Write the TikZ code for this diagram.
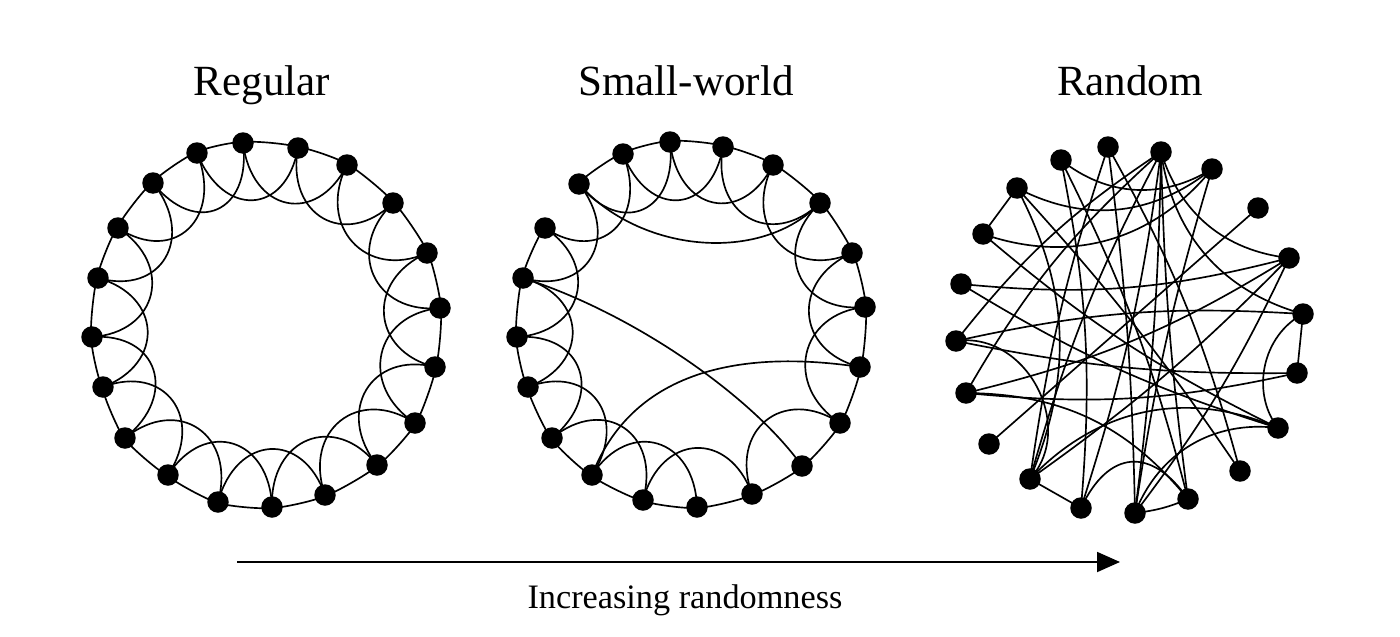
\documentclass[tikz,border=0pt]{standalone}
\usepackage{fontspec}
\setmainfont{Liberation Serif}
\usetikzlibrary{calc,arrows.meta}
\pgfdeclarelayer{paper}
\pgfdeclarelayer{edges}
\pgfsetlayers{paper,edges,main}
\newcommand\ringlink[3]{\draw[link] (#1.center) .. controls ($(#1)!-0.02!(#3)$) and ($(#2)!-0.02!(#3)$) .. (#2.center);}
\newcommand\skiplink[3]{\draw[link] (#1.center) .. controls ($(#1)!0.38!(#3)$) and ($(#2)!0.38!(#3)$) .. (#2.center);}
\newcommand\bendL[4]{\draw[link] (#1.center) .. controls ($(#1)!#4!#3:(#2)$) and ($(#2)!#4!-#3:(#1)$) .. (#2.center);}
\newcommand\bendR[4]{\bendL{#2}{#1}{#3}{#4}}
\begin{document}
\begin{tikzpicture}[x=0.02cm,y=-0.02cm,
  dot/.style={circle,fill=black,inner sep=0pt,minimum size=0.43cm},
  link/.style={line width=0.95pt,black},
  title/.style={font=\fontsize{24.5}{28}\selectfont,anchor=base},
  caption/.style={font=\fontsize{19.5}{23}\selectfont,anchor=base}]
\begin{pgfonlayer}{paper}
\fill[white] (0,0) rectangle (1400,636);
\end{pgfonlayer}
\useasboundingbox (0,0) rectangle (1400,636);

% titles
\node[title] (tReg) at (262,95) {Regular};
\node[title] (tSW) at (686,95) {Small-world};
\node[title] (tRand) at (1130,95) {Random};

% ---------- Regular ----------
\coordinate (RC) at (266,325);
\foreach \n/\x/\y in {1/243/143,2/298/148,3/347/165,4/393/203,5/427/253,6/440/308,7/435/367,8/415/423,9/377/465,10/325/495,11/272/507,12/218/502,13/168/475,14/125/438,15/103/387,16/92/337,17/98/278,18/118/228,19/153/183,20/197/153}
  \node[dot] (R\n) at (\x,\y) {};
\begin{pgfonlayer}{edges}
\foreach \i in {1,...,20}{
  \pgfmathtruncatemacro\j{mod(\i,20)+1}
  \pgfmathtruncatemacro\k{mod(\i+1,20)+1}
  \ringlink{R\i}{R\j}{RC}
  \skiplink{R\i}{R\k}{RC}
}
\end{pgfonlayer}

% ---------- Small-world ----------
\coordinate (SC) at (691,325);
\foreach \n/\x/\y in {1/670/142,2/723/147,3/773/165,4/820/203,5/852/253,6/865/307,7/860/367,8/840/423,9/802/466,10/752/494,11/697/507,12/643/500,13/592/475,14/552/438,15/528/387,16/517/337,17/523/278,18/545/228,19/579/184,20/623/154}
  \node[dot] (S\n) at (\x,\y) {};
\begin{pgfonlayer}{edges}
\foreach \i in {1,...,17,19,20}{
  \pgfmathtruncatemacro\j{mod(\i,20)+1}
  \ringlink{S\i}{S\j}{SC}
}
\foreach \i in {1,2,3,4,5,6,8,10,11,12,13,14,15,16,17,18,19,20}{
  \pgfmathtruncatemacro\k{mod(\i+1,20)+1}
  \skiplink{S\i}{S\k}{SC}
}
\draw[link] (S19.center) .. controls +(60,68) and +(-60,62) .. (S4.center);
\draw[link] (S7.center) .. controls +(-100,-15) and +(45,-115) .. (S13.center);
\draw[link] (S17.center) .. controls +(110,35) and +(-50,-70) .. (S9.center);
\end{pgfonlayer}

% ---------- Random ----------
\foreach \n/\x/\y in {1/1061/160,2/1108/147,3/1161/152,4/1212/169,5/1258/208,6/1289/258,7/1303/314,8/1297/373,9/1278/428,10/1240/471,11/1188/499,12/1135/513,13/1081/508,14/1030/479,15/989/444,16/966/393,17/956/341,18/961/284,19/983/234,20/1017/188}
  \node[dot] (r\n) at (\x,\y) {};
\begin{pgfonlayer}{edges}
\draw[link] (r19.center) -- (r20.center);
\draw[link] (r13.center) -- (r14.center);
\draw[link] (r7.center) -- (r8.center);
\bendL{r11}{r12}{8}{0.39}
\bendR{r7}{r9}{50}{0.39}
\bendR{r1}{r4}{35}{0.39}
\bendR{r20}{r4}{33}{0.39}
\bendR{r19}{r4}{35}{0.39}
\bendR{r3}{r6}{33}{0.39}
\bendR{r3}{r7}{33}{0.39}
\bendL{r14}{r9}{35}{0.39}
\bendL{r12}{r9}{38}{0.39}
\bendL{r13}{r11}{60}{0.6}
\bendR{r18}{r6}{10}{0.39}
\bendL{r17}{r14}{70}{0.45}
\bendL{r20}{r14}{25}{0.39}
\bendL{r16}{r11}{25}{0.39}
\bendL{r17}{r7}{8}{0.39}
\bendL{r1}{r13}{8}{0.39}
\bendL{r1}{r11}{6}{0.39}
\bendR{r2}{r14}{5}{0.39}
\bendL{r2}{r12}{3}{0.39}
\bendL{r2}{r10}{7}{0.39}
\bendR{r3}{r11}{3}{0.39}
\bendL{r3}{r12}{3}{0.39}
\bendL{r3}{r13}{5}{0.39}
\bendR{r3}{r14}{6}{0.39}
\bendR{r3}{r16}{9}{0.39}
\bendR{r3}{r17}{9}{0.39}
\bendR{r4}{r12}{4}{0.39}
\draw[link] (r5.center) -- (r15.center);
\bendL{r6}{r12}{6}{0.39}
\bendR{r16}{r6}{9}{0.39}
\bendL{r6}{r14}{5}{0.39}
\bendR{r18}{r9}{7}{0.39}
\bendR{r19}{r9}{7}{0.39}
\bendL{r20}{r10}{4}{0.39}
\bendR{r17}{r8}{6}{0.39}
\bendR{r16}{r8}{9}{0.39}
\end{pgfonlayer}

% ---------- arrow and caption ----------
\coordinate (aS) at (237,562);
\coordinate (aE) at (1120,562);
\draw[line width=1.1pt,-{Triangle[length=0.46cm,width=0.4cm]}] (aS) -- (aE);
\node[caption] (cap) at (685,608) {Increasing randomness};
\end{tikzpicture}
\end{document}
